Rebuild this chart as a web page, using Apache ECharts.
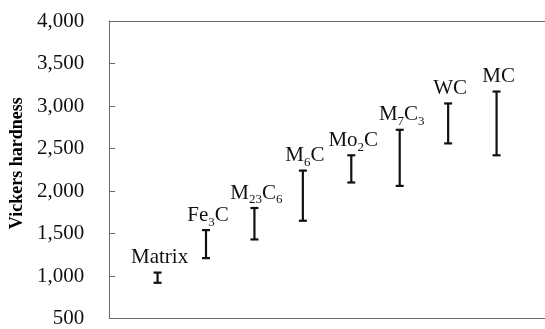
<!DOCTYPE html>
<html>
<head>
<meta charset="utf-8">
<script src="https://cdn.jsdelivr.net/npm/echarts@6/dist/echarts.min.js"></script>
<style>
  html, body { margin: 0; padding: 0; background: #fff; }
  #chart { width: 545px; height: 329px; }
</style>
</head>
<body>
<div id="chart"></div>
<script>
// Hardness ranges of the matrix and the carbide phases
const phases = ['Matrix', 'Fe3C', 'M23C6', 'M6C', 'Mo2C', 'M7C3', 'WC', 'MC'];
const phaseLabels = [
  '{m|Matrix}',
  '{m|Fe}{s|3}{m|C}',
  '{m|M}{s|23}{m|C}{s|6}',
  '{m|M}{s|6}{m|C}',
  '{m|Mo}{s|2}{m|C}',
  '{m|M}{s|7}{m|C}{s|3}',
  '{m|WC}',
  '{m|MC}'
];
const hardnessLow  = [920, 1210, 1430, 1650, 2100, 2060, 2560, 2420];
const hardnessHigh = [1040, 1540, 1800, 2240, 2420, 2720, 3030, 3170];
const yTicks = [500, 1000, 1500, 2000, 2500, 3000, 3500, 4000];

const serif = '"Liberation Serif", "Times New Roman", serif';
const frame = '#6a6a6a';

const rangeData = phases.map((p, i) => [i + 1, hardnessLow[i], hardnessHigh[i], i]);

const chart = echarts.init(document.getElementById('chart'), null, { renderer: 'canvas' });

const hiddenX = {
  type: 'value', min: 0, max: 9,
  axisTick: { show: false }, axisLabel: { show: false }, splitLine: { show: false },
  axisLine: { show: true, onZero: false, lineStyle: { color: frame, width: 1 } }
};

chart.setOption({
  animation: false,
  backgroundColor: '#ffffff',
  grid: { left: 107, top: 21, width: 440, height: 301 },
  xAxis: [
    Object.assign({ position: 'bottom' }, hiddenX),
    Object.assign({ position: 'top' }, hiddenX)
  ],
  yAxis: {
    type: 'value', min: yTicks[0], max: yTicks[yTicks.length - 1], interval: 500,
    name: 'Vickers hardness',
    nameLocation: 'middle',
    nameGap: 83,
    nameTextStyle: {
      fontFamily: serif, fontSize: 18, fontWeight: 'bold', color: '#000',
      padding: [0, 0, 0, 13]
    },
    axisLine: { show: true, lineStyle: { color: frame, width: 1 } },
    axisTick: { show: true, inside: true, length: 6, lineStyle: { color: frame } },
    axisLabel: {
      margin: 25, fontFamily: serif, fontSize: 21, color: '#111',
      formatter: v => v.toLocaleString('en-US')
    },
    splitLine: { show: false }
  },
  series: [{
    type: 'custom',
    data: rangeData,
    encode: { x: 0, y: [1, 2] },
    renderItem: function (params, api) {
      const x = api.value(0);
      const lo = api.coord([x, api.value(1)]);
      const hi = api.coord([x, api.value(2)]);
      const idx = api.value(3);
      const cap = 4;
      const lineStyle = { stroke: '#111', lineWidth: 2.2 };
      return {
        type: 'group',
        children: [
          { type: 'line', shape: { x1: hi[0], y1: hi[1], x2: lo[0], y2: lo[1] }, style: lineStyle },
          { type: 'line', shape: { x1: hi[0] - cap, y1: hi[1], x2: hi[0] + cap, y2: hi[1] }, style: lineStyle },
          { type: 'line', shape: { x1: lo[0] - cap, y1: lo[1], x2: lo[0] + cap, y2: lo[1] }, style: lineStyle },
          {
            type: 'text',
            x: hi[0] + 2,
            y: hi[1] - 28,
            style: {
              text: phaseLabels[idx],
              align: 'center',
              verticalAlign: 'top',
              fill: '#111',
              rich: {
                // main text and lowered subscripts share one line box
                m: { fontFamily: serif, fontSize: 21, lineHeight: 26, fill: '#111' },
                s: { fontFamily: serif, fontSize: 13, lineHeight: 13, padding: [14, 0, 0, 0], fill: '#111' }
              }
            }
          }
        ]
      };
    }
  }]
});
</script>
</body>
</html>
